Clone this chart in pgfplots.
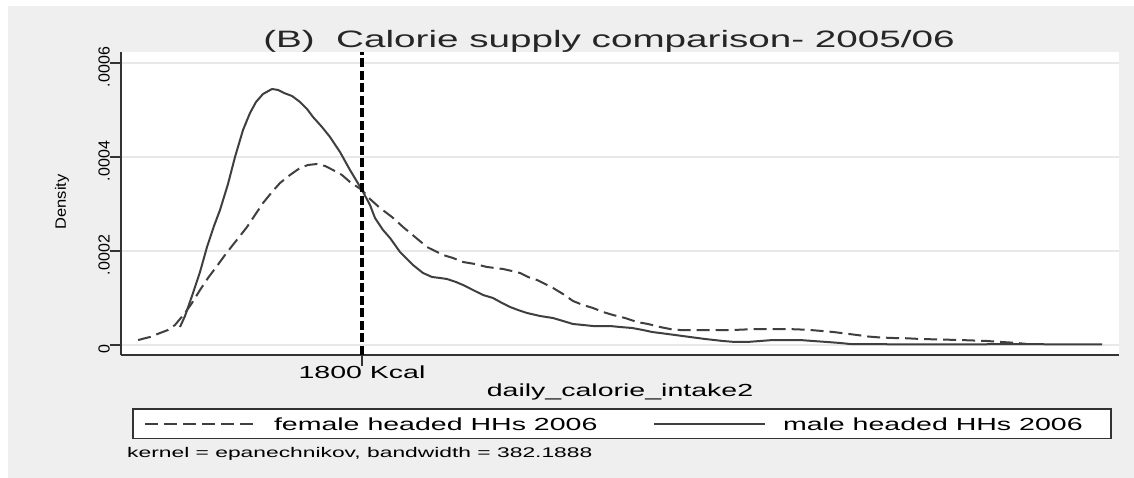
\documentclass[border=0pt]{standalone}
\usepackage{fontspec}
\setmainfont{Liberation Sans}
\usepackage{graphicx}
\usepackage{pgfplots}
\pgfplotsset{compat=1.18}
\definecolor{panel}{HTML}{EFEFEF}
\definecolor{curve}{HTML}{3F3F3F}
\definecolor{axisc}{HTML}{333333}
\definecolor{gridc}{HTML}{E8E8E8}
\begin{document}
\begin{tikzpicture}[x=1pt,y=1pt]
\useasboundingbox (0,0) rectangle (1134,478);
\fill[white] (0,0) rectangle (1134,478);
\fill[panel] (8,0) rectangle (1134,472);
\begin{axis}[
  at={(121pt,123pt)}, anchor=south west,
  scale only axis, width=998pt, height=303pt,
  xmin=-128, xmax=7856, ymin=-2.128e-5, ymax=6.234e-4,
  axis background/.style={fill=white},
  axis x line*=bottom, axis y line*=left,
  axis line style={color=axisc, line width=1.4pt},
  tick align=outside, major tick length=11pt,
  tick style={color=axisc, line width=1.2pt},
  scaled y ticks=false,
  xtick={1800}, xticklabels={\scalebox{1.63}[1]{1800 Kcal}},
  xticklabel style={font=\fontsize{17.5}{20}\selectfont, anchor=north, inner sep=0pt},
  ytick={0,0.0002,0.0004,0.0006}, yticklabels={0,.0002,.0004,.0006},
  yticklabel style={font=\fontsize{16}{18}\selectfont, rotate=90, anchor=south, inner sep=0pt, xshift=-4pt},
  /pgf/number format/assume math mode=true,
  ymajorgrids, grid style={color=gridc, line width=1.4pt},
  xlabel={\scalebox{1.63}[1]{daily\_calorie\_intake2}},
  xlabel style={font=\fontsize{17.5}{20}\selectfont, at={(axis description cs:0.5,-0.1386)}, anchor=base, inner sep=0pt},
  ylabel={\scalebox{1.1}[1]{Density}},
  ylabel style={font=\fontsize{15}{18}\selectfont, at={(axis description cs:-0.0591,0.505)}, anchor=center, rotate=0, inner sep=0pt},
  legend image code/.code={\draw[#1] (0pt,0pt) -- (111pt,0pt);},
  legend columns=2,
  legend cell align=left,
  legend style={at={(axis description cs:0.01202,-0.1782)}, anchor=north west,
    draw=axisc, line width=1.2pt, fill=white, inner xsep=11pt, inner ysep=8.5pt,
    outer sep=0pt, column sep=0pt, row sep=0pt,
    font=\fontsize{17.5}{20}\selectfont,
    nodes={inner sep=0pt, outer sep=0pt, text height=12.8pt, text depth=0pt}},
]
\addplot[curve, line width=2pt, dash pattern=on 13pt off 6pt] table {
x y
9 0.106e-4
104 0.170e-4
184 0.255e-4
248 0.319e-4
304 0.426e-4
384 0.681e-4
440 0.894e-4
504 1.170e-4
568 1.426e-4
640 1.681e-4
704 1.915e-4
760 2.106e-4
824 2.319e-4
880 2.511e-4
944 2.766e-4
1008 3.021e-4
1080 3.255e-4
1144 3.447e-4
1224 3.617e-4
1304 3.766e-4
1368 3.830e-4
1440 3.851e-4
1504 3.809e-4
1568 3.723e-4
1640 3.617e-4
1704 3.468e-4
1800 3.298e-4
1864 3.106e-4
1944 2.915e-4
2040 2.723e-4
2128 2.511e-4
2224 2.298e-4
2320 2.085e-4
2384 2.000e-4
2448 1.915e-4
2528 1.851e-4
2608 1.766e-4
2704 1.723e-4
2800 1.660e-4
2864 1.638e-4
2928 1.617e-4
3000 1.574e-4
3064 1.532e-4
3128 1.447e-4
3200 1.383e-4
3264 1.298e-4
3328 1.213e-4
3408 1.085e-4
3488 0.936e-4
3568 0.851e-4
3648 0.787e-4
3728 0.702e-4
3808 0.638e-4
3904 0.574e-4
4000 0.489e-4
4088 0.447e-4
4184 0.383e-4
4264 0.340e-4
4344 0.319e-4
4448 0.319e-4
4560 0.319e-4
4664 0.319e-4
4768 0.319e-4
4864 0.330e-4
4960 0.340e-4
5080 0.340e-4
5200 0.340e-4
5304 0.330e-4
5384 0.319e-4
5480 0.298e-4
5568 0.277e-4
5664 0.245e-4
5760 0.213e-4
5848 0.181e-4
5944 0.160e-4
6048 0.149e-4
6160 0.143e-4
6264 0.128e-4
6368 0.121e-4
6480 0.113e-4
6584 0.106e-4
6688 0.096e-4
6800 0.085e-4
6880 0.070e-4
6960 0.057e-4
7040 0.043e-4
7120 0.021e-4
};
\addlegendentry{\makebox[396pt][l]{\hspace{17pt}\scalebox{1.63}[1]{female headed HHs 2006}}}
\addplot[curve, line width=2pt] table {
x y
344 0.383e-4
384 0.617e-4
440 1.043e-4
504 1.553e-4
560 2.085e-4
616 2.532e-4
664 2.872e-4
728 3.426e-4
784 4.000e-4
848 4.574e-4
904 4.936e-4
952 5.170e-4
1008 5.340e-4
1080 5.447e-4
1128 5.426e-4
1176 5.362e-4
1240 5.298e-4
1304 5.170e-4
1360 5.021e-4
1408 4.851e-4
1480 4.638e-4
1544 4.426e-4
1624 4.106e-4
1704 3.723e-4
1800 3.298e-4
1864 2.979e-4
1904 2.702e-4
1968 2.447e-4
2024 2.277e-4
2104 1.979e-4
2208 1.702e-4
2288 1.532e-4
2360 1.447e-4
2424 1.426e-4
2480 1.404e-4
2552 1.340e-4
2608 1.277e-4
2688 1.170e-4
2768 1.064e-4
2848 1.000e-4
2920 0.894e-4
2984 0.809e-4
3048 0.745e-4
3120 0.681e-4
3224 0.617e-4
3328 0.574e-4
3408 0.511e-4
3488 0.447e-4
3568 0.426e-4
3648 0.404e-4
3784 0.404e-4
3864 0.383e-4
3960 0.362e-4
4048 0.319e-4
4120 0.277e-4
4184 0.255e-4
4304 0.213e-4
4424 0.170e-4
4544 0.128e-4
4688 0.085e-4
4784 0.064e-4
4880 0.064e-4
4984 0.085e-4
5088 0.106e-4
5200 0.106e-4
5304 0.106e-4
5408 0.085e-4
5520 0.064e-4
5624 0.043e-4
5704 0.021e-4
5888 0.021e-4
6104 0.011e-4
6424 0.011e-4
6744 0.015e-4
7120 0.021e-4
7384 0.011e-4
7720 0.011e-4
};
\addlegendentry{\makebox[334pt][l]{\hspace{17pt}\scalebox{1.63}[1]{male headed HHs 2006}}}
\addplot[black, line width=3.5pt, dash pattern=on 9pt off 3.5pt, forget plot] coordinates {(1800,-2.128e-5) (1800,6.234e-4)};
\end{axis}
\node[anchor=base, font=\fontsize{23.7}{28}\selectfont, text=black!85] at (609,430) {\scalebox{1.63}[1]{(B)\ \ Calorie supply comparison- 2005/06}};
\node[anchor=base west, font=\fontsize{14}{16}\selectfont, inner sep=0pt] at (127,20) {\scalebox{1.63}[1]{kernel = epanechnikov, bandwidth = 382.1888}};
\end{tikzpicture}
\end{document}
